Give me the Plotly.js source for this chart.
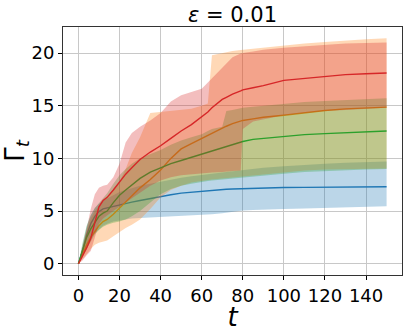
<!DOCTYPE html>
<html>
<head>
<meta charset="utf-8">
<script src="https://cdn.plot.ly/plotly-3.0.1.min.js"></script>
<style>
  html, body { margin: 0; padding: 0; background: #fff; }
  #plot { width: 407px; height: 332px; }
</style>
</head>
<body>
<div id="plot"></div>
<script>
// time steps
var t = [0, 2, 4, 6, 8, 10, 12, 14, 17, 20, 23, 26, 30, 35, 40, 45, 50, 55, 60, 63, 65, 70, 72, 75, 79, 80, 85, 90, 100, 110, 120, 130, 140, 150];

// mean curves
var blueMean   = [0, 1.2, 2.7, 3.8, 4.5, 4.95, 5.2, 5.3, 5.45, 5.6, 5.72, 5.85, 6.0, 6.2, 6.4, 6.55, 6.7, 6.8, 6.9, 6.95, 6.98, 7.05, 7.07, 7.1, 7.13, 7.14, 7.17, 7.2, 7.23, 7.25, 7.27, 7.28, 7.29, 7.3];
var orangeMean = [0, 0.9, 1.8, 2.5, 3.1, 3.6, 4.0, 4.2, 4.7, 5.3, 5.8, 6.4, 7.2, 8.0, 8.9, 10.0, 10.9, 11.4, 11.9, 12.2, 12.4, 12.9, 13.05, 13.3, 13.55, 13.6, 13.75, 13.9, 14.1, 14.35, 14.55, 14.7, 14.78, 14.86];
var greenMean  = [0, 1.3, 2.5, 3.3, 3.9, 4.5, 4.8, 5.0, 5.8, 6.5, 7.0, 7.5, 8.1, 8.7, 9.1, 9.5, 9.8, 10.1, 10.4, 10.6, 10.7, 11.0, 11.1, 11.3, 11.55, 11.6, 11.8, 11.9, 12.1, 12.25, 12.35, 12.45, 12.52, 12.6];
var redMean    = [0, 0.7, 1.5, 2.4, 4.0, 5.4, 6.0, 6.3, 7.0, 7.8, 8.5, 9.1, 9.9, 10.6, 11.2, 11.9, 12.6, 13.2, 13.9, 14.4, 14.8, 15.6, 15.8, 16.1, 16.4, 16.5, 16.7, 16.9, 17.4, 17.6, 17.8, 17.95, 18.03, 18.1];

// shaded bands (upper / lower)
var blueUp    = [0, 1.8, 3.5, 4.6, 5.3, 5.7, 6.0, 6.2, 6.5, 6.8, 7.0, 7.2, 7.4, 7.6, 7.8, 8.0, 8.15, 8.3, 8.45, 8.5, 8.55, 8.65, 8.7, 8.75, 8.83, 8.85, 9.0, 9.1, 9.25, 9.4, 9.5, 9.58, 9.65, 9.7];
var blueLow   = [0, 0.6, 1.5, 2.3, 2.9, 3.3, 3.6, 3.8, 4.0, 4.1, 4.2, 4.3, 4.35, 4.4, 4.45, 4.5, 4.5, 4.55, 4.6, 4.65, 4.7, 4.8, 4.85, 4.95, 5.03, 5.05, 5.1, 5.15, 5.2, 5.25, 5.3, 5.35, 5.4, 5.45];
var orangeUp  = [0, 1.6, 3.2, 4.3, 5.0, 5.5, 5.9, 6.3, 7.0, 7.8, 9.0, 10.5, 12.0, 14.3, 14.4, 14.5, 14.6, 14.7, 15.0, 15.2, 19.8, 20.0, 20.1, 20.2, 20.28, 20.3, 20.45, 20.55, 20.7, 20.9, 21.05, 21.2, 21.3, 21.4];
var orangeLow = [0, 0.4, 0.9, 1.4, 1.8, 2.0, 2.1, 2.2, 2.6, 3.0, 3.4, 3.7, 4.2, 5.2, 6.3, 7.0, 7.4, 7.7, 7.9, 7.95, 8.0, 8.1, 8.15, 8.2, 8.28, 8.3, 8.4, 8.5, 8.7, 8.85, 8.95, 9.0, 9.05, 9.05];
var greenUp   = [0, 2.0, 3.6, 4.6, 5.3, 5.8, 6.3, 6.7, 7.6, 8.4, 9.0, 9.5, 10.0, 10.4, 10.8, 11.3, 11.7, 12.0, 12.3, 12.6, 12.8, 13.0, 14.5, 14.6, 14.78, 14.8, 14.9, 15.0, 15.2, 15.35, 15.45, 15.55, 15.62, 15.7];
var greenLow  = [0, 0.7, 1.5, 2.2, 2.8, 3.2, 3.5, 3.7, 3.9, 4.0, 4.2, 4.5, 5.0, 5.8, 6.6, 7.1, 7.4, 7.6, 7.8, 7.85, 7.9, 8.0, 8.05, 8.1, 8.18, 8.2, 8.3, 8.4, 8.55, 8.7, 8.8, 8.9, 8.95, 9.0];
var redUp     = [0, 1.5, 3.3, 5.2, 6.6, 7.2, 7.4, 7.5, 8.2, 9.5, 11.5, 12.4, 13.0, 13.6, 14.3, 15.4, 16.0, 16.3, 16.6, 17.2, 17.6, 18.6, 19.0, 19.6, 19.95, 20.0, 20.15, 20.3, 20.5, 20.65, 20.8, 20.9, 20.95, 21.0];
var redLow    = [0, 0.3, 0.8, 1.2, 2.5, 3.8, 4.3, 4.6, 5.0, 5.4, 5.8, 6.2, 6.8, 7.4, 7.9, 8.2, 8.4, 8.5, 8.6, 8.63, 8.65, 8.7, 8.75, 8.8, 8.85, 12.8, 13.5, 13.7, 14.1, 14.3, 14.5, 14.6, 14.7, 14.8];

var series = [
  {mean: blueMean,   up: blueUp,   low: blueLow,   rgb: "31,119,180"},
  {mean: orangeMean, up: orangeUp, low: orangeLow, rgb: "255,127,14"},
  {mean: greenMean,  up: greenUp,  low: greenLow,  rgb: "44,160,44"},
  {mean: redMean,    up: redUp,    low: redLow,    rgb: "214,39,40"}
];

var data = [];
series.forEach(function (s) {
  data.push({
    x: t, y: s.low, type: "scatter", mode: "lines",
    line: {width: 0}, hoverinfo: "skip", showlegend: false
  });
  data.push({
    x: t, y: s.up, type: "scatter", mode: "lines", fill: "tonexty",
    fillcolor: "rgba(" + s.rgb + ",0.3)",
    line: {width: 0}, hoverinfo: "skip", showlegend: false
  });
  data.push({
    x: t, y: s.mean, type: "scatter", mode: "lines",
    line: {color: "rgb(" + s.rgb + ")", width: 1.4}, showlegend: false
  });
});

var ff = "DejaVu Sans, sans-serif";

var layout = {
  width: 407,
  height: 332,
  margin: {l: 63, r: 5, t: 27, b: 57},
  paper_bgcolor: "white",
  plot_bgcolor: "white",
  font: {family: ff, size: 18, color: "black"},
  title: {
    text: "<i>ε</i> = 0.01",
    font: {family: ff, size: 21, color: "black"},
    x: 0.5, xref: "paper", y: 0.955, yref: "container", xanchor: "center", yanchor: "middle"
  },
  xaxis: {
    range: [-7.5, 157.5],
    tickvals: [0, 20, 40, 60, 80, 100, 120, 140],
    ticks: "outside", ticklen: 4, tickcolor: "black",
    showgrid: true, gridcolor: "#c8c8c8", gridwidth: 1,
    showline: true, linecolor: "#333", linewidth: 1, mirror: true,
    zeroline: false,
    tickfont: {family: ff, size: 18, color: "black"},
    title: {text: "<i>t</i>", font: {family: ff, size: 26, color: "black"}, standoff: 0}
  },
  yaxis: {
    range: [-1.07, 22.47],
    tickvals: [0, 5, 10, 15, 20],
    ticks: "outside", ticklen: 4, tickcolor: "black",
    showgrid: true, gridcolor: "#c8c8c8", gridwidth: 1,
    showline: true, linecolor: "#333", linewidth: 1, mirror: true,
    zeroline: false,
    tickfont: {family: ff, size: 18, color: "black"},
    title: {text: "Γ<sub><i>t</i></sub>", font: {family: ff, size: 26, color: "black"}, standoff: 4}
  }
};

Plotly.newPlot("plot", data, layout, {displayModeBar: false, staticPlot: true});
</script>
</body>
</html>
